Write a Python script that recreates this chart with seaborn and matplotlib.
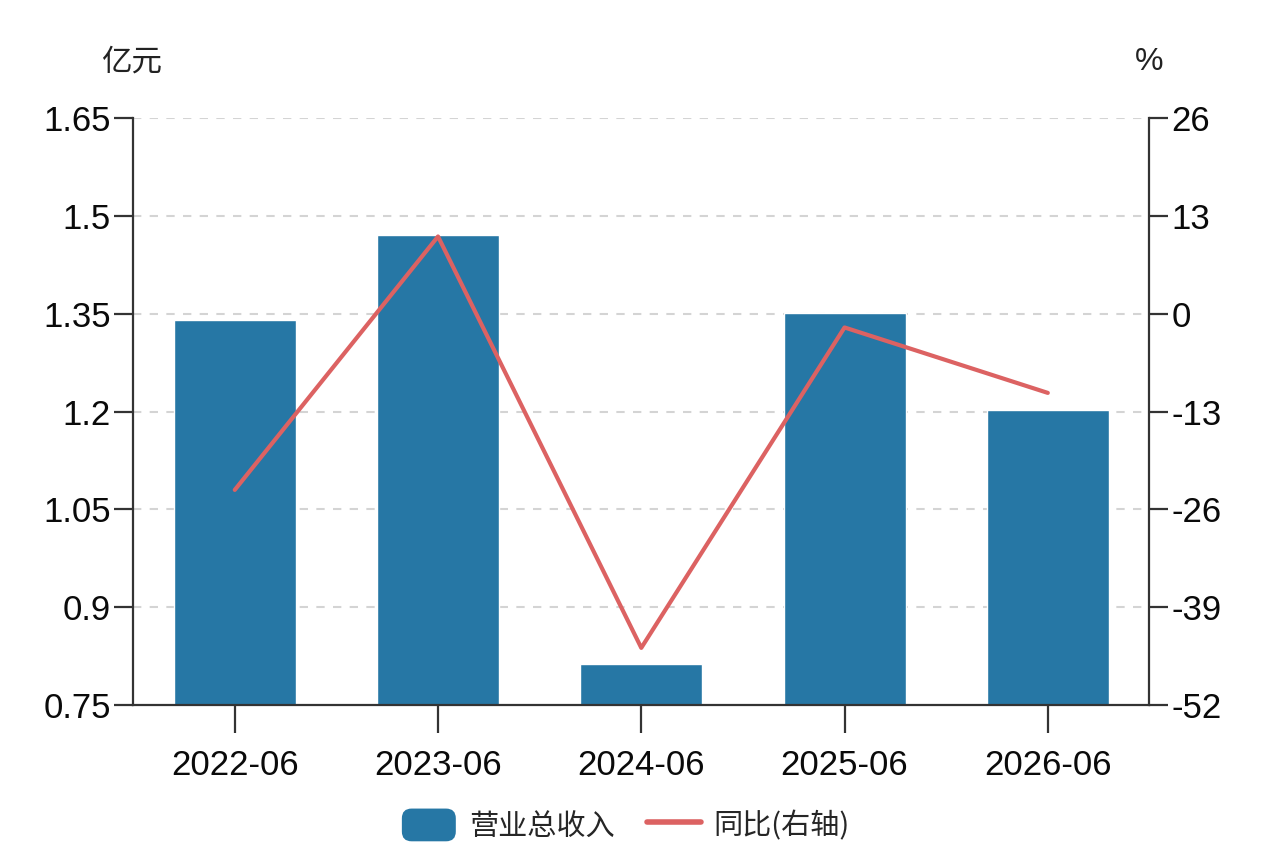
import matplotlib
matplotlib.use('Agg')
import matplotlib.pyplot as plt
import seaborn as sns
from matplotlib.lines import Line2D
from matplotlib.patches import FancyBboxPatch, Patch
from matplotlib.legend_handler import HandlerPatch

# data
periods = ['2022-06', '2023-06', '2024-06', '2025-06', '2026-06']
revenue = [1.34, 1.471, 0.813, 1.351, 1.202]   # 亿元
yoy = [-23.4, 10.3, -44.4, -1.8, -10.5]          # %
left_ticks = [0.75, 0.9, 1.05, 1.2, 1.35, 1.5, 1.65]
right_ticks = [-52, -39, -26, -13, 0, 13, 26]

bar_color = '#2677a5'
line_color = '#dc6262'

sns.set_theme(style='white')
plt.rcParams['font.family'] = ['Liberation Sans Narrow', 'Liberation Sans', 'Noto Sans CJK SC']
plt.rcParams['axes.unicode_minus'] = False
cjk = ['Noto Sans CJK SC', 'DejaVu Sans']


class RoundHandler(HandlerPatch):
    def create_artists(self, legend, orig_handle, xdescent, ydescent,
                       width, height, fontsize, trans):
        p = FancyBboxPatch((-xdescent, -ydescent), width, height,
                           boxstyle='round,pad=0,rounding_size=7',
                           facecolor=orig_handle.get_facecolor(),
                           edgecolor='none', transform=trans)
        return [p]


fig = plt.figure(figsize=(12.8, 8.64), dpi=100)
ax = fig.add_axes([0.104, 0.184, 0.794, 0.679])

sns.barplot(x=periods, y=revenue, color=bar_color, width=0.6,
            saturation=1, ax=ax, zorder=2)
ax.set_xlim(-0.5, len(periods) - 0.5)
ax.set_ylim(left_ticks[0], left_ticks[-1])
ax.set_yticks(left_ticks)
ax.set_yticklabels([f'{t:g}' for t in left_ticks])
ax.set_xlabel('')
ax.set_ylabel('')

for t in left_ticks[1:]:
    ax.axhline(t, color='#d4d4d4', lw=1.5, ls=(0, (4, 4)), zorder=1)

ax2 = ax.twinx()
sns.lineplot(x=periods, y=yoy, color=line_color, lw=3, sort=False,
             ax=ax2, zorder=3)
ax2.set_ylim(right_ticks[0], right_ticks[-1])
ax2.set_yticks(right_ticks)
ax2.set_ylabel('')

for a in (ax, ax2):
    a.spines['top'].set_visible(False)
    for s in ('left', 'right', 'bottom'):
        a.spines[s].set_color('#333333')
        a.spines[s].set_linewidth(1.6)
ax.spines['right'].set_visible(False)
ax2.spines['left'].set_visible(False)
ax2.spines['bottom'].set_visible(False)

ax.tick_params(axis='y', left=True, length=14, width=1.6, color='#333333',
               labelsize=25, pad=2, labelcolor='#0a0a0a')
ax.tick_params(axis='x', bottom=True, length=20, width=1.6, color='#333333',
               labelsize=25, pad=12, labelcolor='#0a0a0a')
ax2.tick_params(axis='y', right=True, length=14, width=1.6, color='#333333',
                labelsize=25, pad=2, labelcolor='#0a0a0a')

fig.text(0.103, 0.928, '亿元', fontsize=22, family=cjk, color='#222222',
         ha='center', va='center')
fig.text(0.898, 0.928, '%', fontsize=23, color='#222222',
         ha='center', va='center')

handles = [Patch(facecolor=bar_color, label='营业总收入'),
           Line2D([0], [0], color=line_color, lw=4, label='同比(右轴)')]
fig.legend(handles=handles, loc='center', bbox_to_anchor=(0.489, 0.045),
           ncol=2, frameon=False, prop={'family': cjk, 'size': 21},
           handlelength=1.85, handleheight=1.35, handletextpad=0.45,
           columnspacing=1.1, handler_map={Patch: RoundHandler()})

fig.savefig('out.png', dpi=100)
